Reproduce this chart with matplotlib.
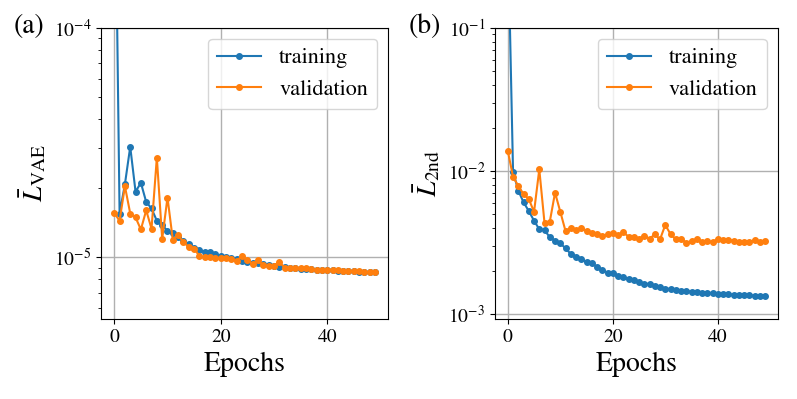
import numpy as np
import matplotlib
matplotlib.use('Agg')
import matplotlib.pyplot as plt

plt.rcParams['font.family'] = ['STIXGeneral', 'DejaVu Serif']
plt.rcParams['mathtext.fontset'] = 'stix'

epochs = np.arange(50)

# (a) VAE loss
vae_train = [1.0e-3, 1.55e-5, 2.08e-5, 3.03e-5, 1.93e-5, 2.11e-5, 1.74e-5, 1.63e-5, 1.44e-5, 1.38e-5,
             1.30e-5, 1.28e-5, 1.22e-5, 1.18e-5, 1.14e-5, 1.10e-5, 1.07e-5, 1.055e-5, 1.05e-5, 1.027e-5,
             1.01e-5, 9.97e-6, 9.93e-6, 9.77e-6, 9.64e-6, 9.54e-6, 9.45e-6, 9.39e-6, 9.30e-6, 9.20e-6,
             9.14e-6, 9.08e-6, 9.03e-6, 8.98e-6, 8.95e-6, 8.92e-6, 8.89e-6, 8.86e-6, 8.83e-6, 8.80e-6,
             8.78e-6, 8.76e-6, 8.73e-6, 8.71e-6, 8.68e-6, 8.66e-6, 8.64e-6, 8.62e-6, 8.60e-6, 8.57e-6]
vae_val = [1.56e-5, 1.44e-5, 2.04e-5, 1.55e-5, 1.49e-5, 1.32e-5, 1.60e-5, 1.33e-5, 2.72e-5, 1.20e-5,
           1.82e-5, 1.19e-5, 1.25e-5, 1.16e-5, 1.11e-5, 1.09e-5, 1.01e-5, 9.97e-6, 1.00e-5, 9.93e-6,
           9.87e-6, 9.93e-6, 9.77e-6, 9.64e-6, 1.01e-5, 9.70e-6, 9.32e-6, 9.67e-6, 9.23e-6, 9.17e-6,
           9.17e-6, 9.51e-6, 9.01e-6, 9.00e-6, 9.00e-6, 8.97e-6, 9.00e-6, 8.89e-6, 8.83e-6, 8.83e-6,
           8.83e-6, 8.80e-6, 8.77e-6, 8.74e-6, 8.71e-6, 8.68e-6, 8.66e-6, 8.63e-6, 8.60e-6, 8.57e-6]

# (b) second-stage loss
snd_train = [0.5, 9.89e-3, 7.29e-3, 6.04e-3, 5.25e-3, 4.49e-3, 3.91e-3, 3.86e-3, 3.44e-3, 3.26e-3,
             3.12e-3, 2.88e-3, 2.63e-3, 2.52e-3, 2.43e-3, 2.30e-3, 2.26e-3, 2.14e-3, 2.03e-3, 1.95e-3,
             1.92e-3, 1.84e-3, 1.81e-3, 1.76e-3, 1.72e-3, 1.665e-3, 1.63e-3, 1.62e-3, 1.58e-3, 1.55e-3,
             1.50e-3, 1.50e-3, 1.48e-3, 1.46e-3, 1.45e-3, 1.43e-3, 1.42e-3, 1.41e-3, 1.41e-3, 1.40e-3,
             1.39e-3, 1.38e-3, 1.37e-3, 1.365e-3, 1.36e-3, 1.35e-3, 1.35e-3, 1.345e-3, 1.34e-3, 1.34e-3]
snd_val = [1.38e-2, 9.13e-3, 7.85e-3, 6.90e-3, 6.37e-3, 5.17e-3, 1.027e-2, 4.31e-3, 4.42e-3, 7.05e-3,
           5.19e-3, 3.80e-3, 3.97e-3, 3.86e-3, 3.97e-3, 3.82e-3, 3.70e-3, 3.60e-3, 3.51e-3, 3.60e-3,
           3.70e-3, 3.57e-3, 3.72e-3, 3.48e-3, 3.48e-3, 3.36e-3, 3.53e-3, 3.36e-3, 3.60e-3, 3.33e-3,
           4.19e-3, 3.62e-3, 3.33e-3, 3.36e-3, 3.15e-3, 3.24e-3, 3.33e-3, 3.21e-3, 3.23e-3, 3.19e-3,
           3.33e-3, 3.29e-3, 3.29e-3, 3.25e-3, 3.19e-3, 3.17e-3, 3.19e-3, 3.29e-3, 3.19e-3, 3.25e-3]

fig = plt.figure(figsize=(7.97, 3.99), dpi=100)
ax1 = fig.add_axes([0.127, 0.2, 0.36, 0.73])
ax2 = fig.add_axes([0.621, 0.2, 0.355, 0.73])

panels = [(ax1, vae_train, vae_val, r'$\bar{L}_{\rm VAE}$', (5.36e-6, 1e-4), '(a)'),
          (ax2, snd_train, snd_val, r'$\bar{L}_{\rm 2nd}$', (9.2e-4, 1e-1), '(b)')]

for ax, tr, va, ylab, ylim, tag in panels:
    ax.plot(epochs, tr, '-o', color='C0', ms=4, lw=1.5, label='training')
    ax.plot(epochs, va, '-o', color='C1', ms=4, lw=1.5, label='validation')
    ax.set_yscale('log')
    ax.set_ylim(*ylim)
    ax.set_xlim(-2.45, 51.45)
    ax.grid(True, color='#b0b0b0', lw=1.0)
    ax.set_xlabel('Epochs', fontsize=20)
    ax.set_ylabel(ylab, fontsize=20)
    ax.tick_params(labelsize=14)
    ax.legend(loc='upper right', fontsize=16)
    ax.text(-0.305, 1.005, tag, transform=ax.transAxes, fontsize=20, va='center', ha='left')

plt.savefig('out.png', dpi=100)
